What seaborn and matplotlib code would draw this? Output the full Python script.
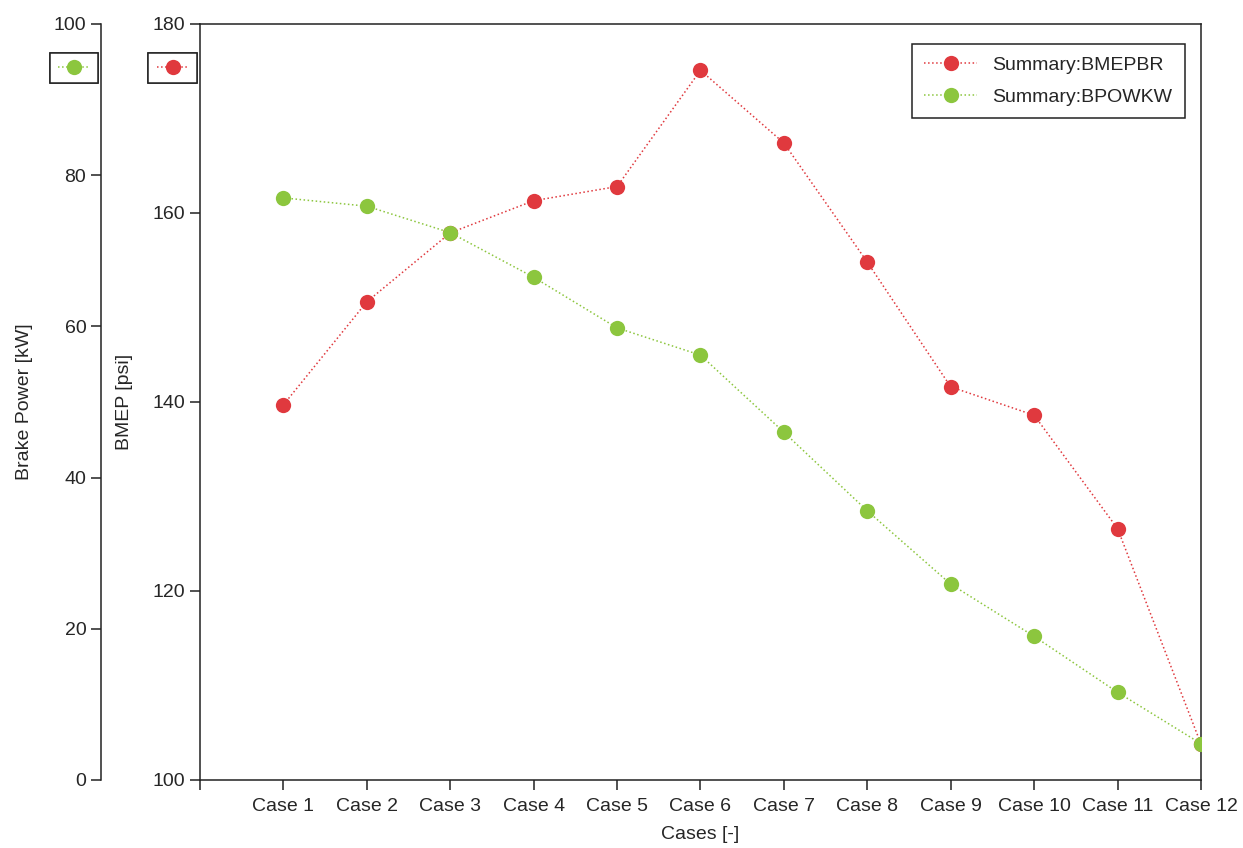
import numpy as np
import matplotlib
matplotlib.use('Agg')
import matplotlib.pyplot as plt
from matplotlib.lines import Line2D
import seaborn as sns

# --- data ---
cases = ['Case 1', 'Case 2', 'Case 3', 'Case 4', 'Case 5', 'Case 6',
         'Case 7', 'Case 8', 'Case 9', 'Case 10', 'Case 11', 'Case 12']
bmep_psi = [139.7, 150.6, 157.9, 161.3, 162.8, 175.1,
            167.4, 154.8, 141.6, 138.6, 126.6, 103.8]
bpow_kw = [77.0, 75.9, 72.4, 66.5, 59.8, 56.2,
           46.0, 35.6, 25.9, 19.0, 11.6, 4.8]

red = '#e0393e'
green = '#8cc63e'

sns.set_style('ticks')
plt.rcParams['font.family'] = ['Liberation Sans', 'DejaVu Sans']
plt.rcParams['axes.edgecolor'] = '#222222'
plt.rcParams['axes.linewidth'] = 1.1

pos = np.arange(1, len(cases) + 1)
fs = 14

fig = plt.figure(figsize=(12.43, 8.48), dpi=100)
ax = fig.add_axes([0.1609, 0.0802, 0.8053, 0.8915])
ax2 = ax.twinx()

# BMEP on inner axis
sns.lineplot(x=pos, y=bmep_psi, ax=ax, color=red, linestyle=':', lw=1.1,
             marker='o', markersize=11, markeredgewidth=0, label='Summary:BMEPBR')
# Brake power on outer axis
sns.lineplot(x=pos, y=bpow_kw, ax=ax2, color=green, linestyle=':', lw=1.1,
             marker='o', markersize=11, markeredgewidth=0, label='Summary:BPOWKW')

ax.set_xlim(0, 12)
ax.set_ylim(100, 180)
ax.set_yticks([100, 120, 140, 160, 180])
ax.set_xticks(np.arange(0, 13))
ax.set_xticklabels([''] + cases)
ax.set_xlabel('Cases [-]', fontsize=fs, labelpad=8)
ax.set_ylabel('BMEP [psi]', fontsize=fs, labelpad=14)
ax.tick_params(axis='both', labelsize=fs, length=7, width=1.1, color='#222222')
ax.tick_params(axis='x', pad=6)
for s in ['top', 'right', 'left', 'bottom']:
    ax.spines[s].set_visible(True)

ax2.set_ylim(0, 100)
ax2.set_yticks([0, 20, 40, 60, 80, 100])
ax2.spines['left'].set_position(('axes', -0.099))
ax2.spines['left'].set_visible(True)
ax2.spines['right'].set_visible(False)
ax2.spines['top'].set_visible(False)
ax2.spines['bottom'].set_visible(False)
ax2.yaxis.set_ticks_position('left')
ax2.yaxis.set_label_position('left')
ax2.set_ylabel('Brake Power [kW]', fontsize=fs, labelpad=15)
ax2.tick_params(axis='y', labelsize=fs, length=7, width=1.1, color='#222222')

# combined legend in the upper right
h1, l1 = ax.get_legend_handles_labels()
h2, l2 = ax2.get_legend_handles_labels()
ax.get_legend().remove()
ax2.get_legend().remove()
leg = ax2.legend(h1 + h2, l1 + l2, loc='upper right', bbox_to_anchor=(0.984, 0.9735),
                 fontsize=fs, fancybox=False, edgecolor='#222222', framealpha=1,
                 handlelength=2.7, borderpad=0.65, labelspacing=0.7,
                 borderaxespad=0)
leg.get_frame().set_linewidth(1.1)

# small axis-identifier legends next to each y axis
def axis_key(color, x):
    h = Line2D([], [], color=color, linestyle=':', lw=1.1, marker='o',
               markersize=11, markeredgewidth=0)
    lg = fig.legend([h], [''], loc='center', bbox_to_anchor=(x, 0.92),
                    fancybox=False, edgecolor='#222222', framealpha=1,
                    handlelength=2.3, handletextpad=0, borderpad=0.6,
                    borderaxespad=0)
    lg.get_frame().set_linewidth(1.1)
    fig.add_artist(lg)

axis_key(green, 0.0595)
axis_key(red, 0.139)

plt.savefig('out.png', dpi=100)
plt.close()
